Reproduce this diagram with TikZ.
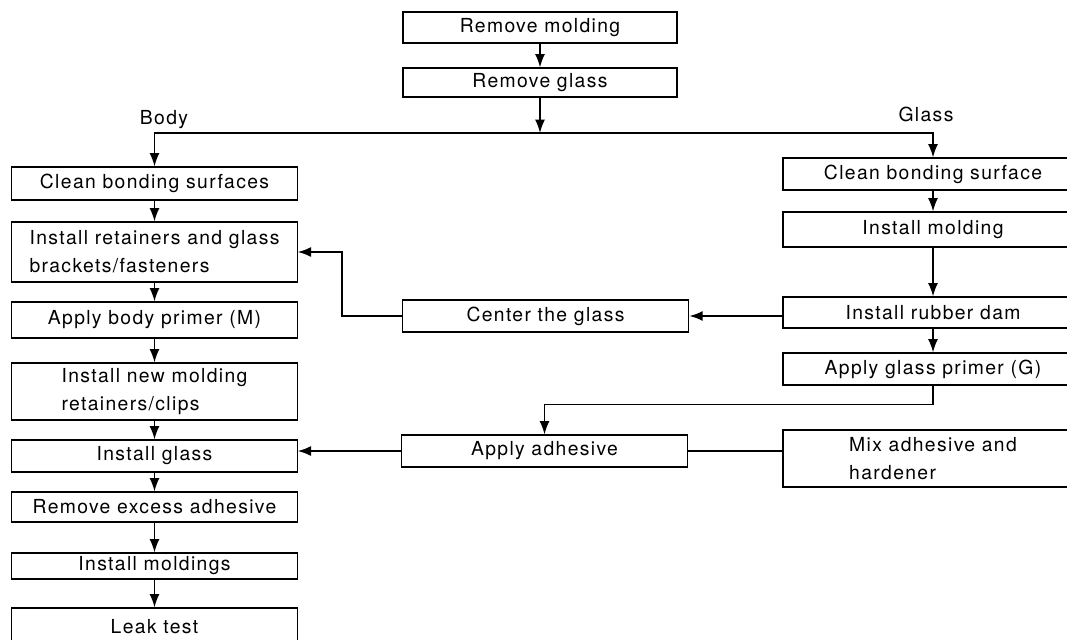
\documentclass[tikz,border=0pt]{standalone}
\usepackage{fontspec}
\setmainfont{TeX Gyre Heros}[LetterSpace=7]
\usepackage{tikz}
\usetikzlibrary{arrows.meta}

\begin{document}
\begin{tikzpicture}[x=0.75pt,y=-0.75pt,
  box/.style={draw,line width=0.8pt,inner sep=0pt,align=left,font=\fontsize{14.5}{21}\selectfont},
  lbox/.style={box,minimum width=214pt},
  rbox/.style={box,minimum width=225pt},
  line/.style={line width=1.3pt},
  arr/.style={line,-{Latex[length=10pt,width=7.5pt]}}]
\clip (0,0) rectangle (1067,639);
% top
\node[box,minimum width=205.5pt,minimum height=23.25pt] (mold) at (540,27.5) {Remove molding};
\node[box,minimum width=205.5pt,minimum height=21.75pt] (rglass) at (540,82.5) {Remove glass};
\coordinate (split) at (540,133);
\node[font=\fontsize{14.5}{18}\selectfont] (body) at (164,120) {Body};
\node[font=\fontsize{14.5}{18}\selectfont] (glass) at (926,114) {Glass};
% body side
\node[lbox,minimum height=24.75pt] (cleanb) at (154.5,183.5) {Clean bonding surfaces};
\node[lbox,minimum height=45pt] (retain) at (154.5,252) {Install retainers and glass\\brackets/fasteners};
\node[lbox,minimum height=27pt] (bprimer) at (154.5,320) {Apply body primer (M)};
\node[lbox,minimum height=42.75pt] (newmold) at (154.5,391.5) {Install new molding\\retainers/clips};
\node[lbox,minimum height=24pt] (iglass) at (154.5,456) {Install glass};
\node[lbox,minimum height=22.5pt] (excess) at (154.5,507) {Remove excess adhesive};
\node[lbox,minimum height=19.5pt] (imoldings) at (154.5,566) {Install moldings};
\node[lbox,minimum height=28.5pt] (leak) at (154.5,627) {Leak test};
% glass side
\node[rbox,minimum height=24pt] (cleang) at (933,174) {Clean bonding surface};
\node[rbox,minimum height=26.25pt] (imold) at (933,229.5) {Install molding};
\node[rbox,minimum height=23.25pt] (dam) at (933,312.5) {Install rubber dam};
\node[rbox,minimum height=24pt] (gprimer) at (933,369) {Apply glass primer (G)};
\node[rbox,minimum height=42.75pt] (mix) at (933,458.5) {Mix adhesive and\\hardener};
% middle
\node[box,minimum width=215pt,minimum height=24pt] (center) at (545.5,316) {Center the glass};
\node[box,minimum width=215pt,minimum height=24pt] (adhesive) at (544.5,451) {Apply adhesive};
% connectors
\draw[arr] (mold) -- (rglass);
\draw[arr] (rglass) -- (split);
\draw[arr] (split) -| (cleanb);
\draw[arr] (split) -| (cleang);
\draw[arr] (cleanb) -- (retain);
\draw[arr] (retain) -- (bprimer);
\draw[arr] (bprimer) -- (newmold);
\draw[arr] (newmold) -- (iglass);
\draw[arr] (iglass) -- (excess);
\draw[arr] (excess) -- (imoldings);
\draw[arr] (imoldings) -- (leak);
\draw[arr] (cleang) -- (imold);
\draw[arr] (imold) -- (dam);
\draw[arr] (dam) -- (gprimer);
\draw[arr] (dam.west |- center.east) -- (center.east);
\draw[arr] (center.west) -- ++(-60,0) |- (retain.east);
\draw[arr] (gprimer.south) -- ++(0,19) -| (adhesive.north);
\draw[line] (mix.west |- adhesive.east) -- (adhesive.east);
\draw[arr] (adhesive.west) -- (adhesive.west -| iglass.east);
\end{tikzpicture}
\end{document}
